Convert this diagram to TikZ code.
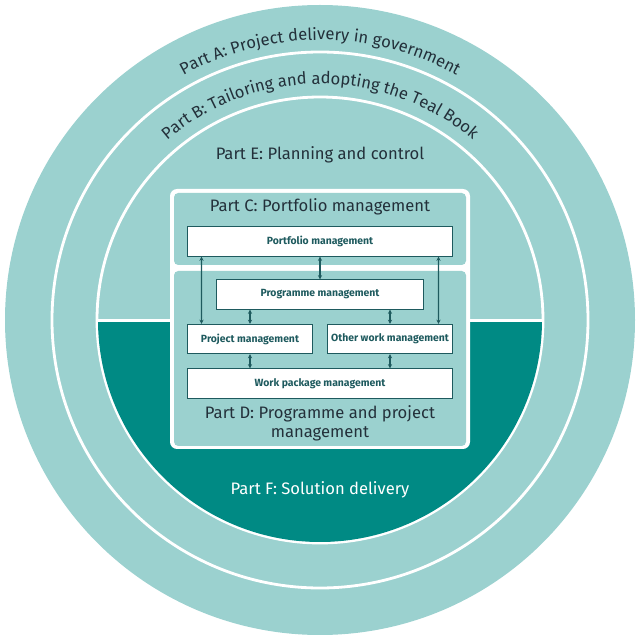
\documentclass[tikz,border=0pt]{standalone}
\usepackage{fontspec}
\setmainfont{Fira Sans}
\usetikzlibrary{arrows.meta,calc,positioning,decorations.text}
\definecolor{tealLight}{HTML}{9BD1CF}
\definecolor{tealDark}{HTML}{008A84}
\definecolor{tealLine}{HTML}{1E5A5E}
\definecolor{inkDark}{HTML}{23303A}
\tikzset{
  part/.style={text=inkDark, font=\fontsize{11.8}{13.5}\selectfont},
  box/.style={draw=tealLine, fill=white, line width=0.7pt, text=tealLine,
    font=\fontsize{7.4}{9}\selectfont\bfseries, inner sep=0pt, minimum height=0.73cm},
  arr/.style={draw=tealLine, line width=0.8pt, {Stealth[length=3pt,width=3pt]}-{Stealth[length=3pt,width=3pt]}},
  panel/.style={fill=tealLight, rounded corners=3pt}
}
\begin{document}
\begin{tikzpicture}[x=0.025cm,y=0.025cm]
  \useasboundingbox (0,0) rectangle (640,640);
  % rings
  \fill[tealLight] (320,320) circle (315);
  \draw[white, line width=2pt] (320,320) circle (268);
  \draw[white, line width=2pt] (320,320) circle (223);
  \begin{scope}
    \clip (320,320) circle (222);
    \fill[tealDark] (90,90) rectangle (550,318);
    \draw[white, line width=2pt] (90,319.5) -- (550,319.5);
  \end{scope}
  % curved labels
  \path[decorate, decoration={text along path, text align=center,
    text={|\fontsize{11.8}{13.5}\selectfont\color{inkDark}|Part A: Project delivery in government}}]
    ($(320,320)+(150:280)$) arc[start angle=150, end angle=30, radius=280];
  \path[decorate, decoration={text along path, text align=center,
    text={|\fontsize{11.8}{13.5}\selectfont\color{inkDark}|Part B: Tailoring and adopting the Teal Book}}]
    ($(320,320)+(160:236)$) arc[start angle=160, end angle=20, radius=236];
  \node[part] (partE) at (320,485) {Part E: Planning and control};
  \node[part, text=white] (partF) at (320,150) {Part F: Solution delivery};
  % panels
  \fill[white, rounded corners=5pt] (170,191) rectangle (470,451);
  \fill[panel] (174,375) rectangle (466,447);
  \fill[panel] (174,194) rectangle (466,369);
  \node[part] (partC) at (320,433) {Part C: Portfolio management};
  \node[part, align=center] (partD) at (320,217) {Part D: Programme and project\\management};
  % boxes
  \node[box, minimum width=6.6cm] (portfolio) at (320,398.5) {Portfolio management};
  \node[box, minimum width=5.15cm] (programme) at (320,345.5) {Programme management};
  \node[box, minimum width=3.1cm] (project) at (250,301) {Project management};
  \node[box, minimum width=3.1cm] (other) at (390,301) {Other work management};
  \node[box, minimum width=6.6cm] (wp) at (320,256.5) {Work package management};
  % links
  \draw[arr] ([xshift=0.35cm]portfolio.south west) -- ([xshift=0.35cm]project.north west);
  \draw[arr] (portfolio.south) -- (programme.north);
  \draw[arr] ([xshift=-0.35cm]portfolio.south east) -- ([xshift=-0.35cm]other.north east);
  \draw[arr] (programme.south -| project.north) -- (project.north);
  \draw[arr] (programme.south -| other.north) -- (other.north);
  \draw[arr] (project.south) -- (wp.north -| project.south);
  \draw[arr] (other.south) -- (wp.north -| other.south);
\end{tikzpicture}
\end{document}
